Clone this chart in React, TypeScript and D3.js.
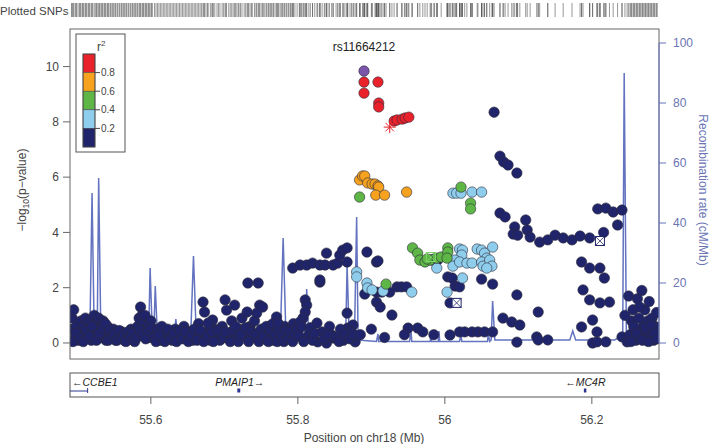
import React from "react";
import * as d3 from "d3";

// ---------- DATA ----------
const xTicks = [55.6, 55.8, 56, 56.2];
const yTicks = [0, 2, 4, 6, 8, 10];
const recTicks = [0, 20, 40, 60, 80, 100];
const legendLabels = ["0.8", "0.6", "0.4", "0.2"];
const legendColors = ["#e8212a", "#f6a21e", "#5db646", "#8fcdec", "#20246a"];
const leadSnp = "rs11664212";

// [position Mb, -log10 p]
const navyPts: [number, number][] = [
  [55.492,0.5],[55.493,0.9],[55.495,1.2],[55.497,0.2],[55.499,0.6],[55.501,0.1],[55.503,0.4],[55.505,0.8],[55.507,0.3],[55.509,0.6],
  [55.511,0.9],[55.513,0.2],[55.515,0.5],[55.517,0.8],[55.519,0.1],[55.521,0.4],[55.523,1.0],[55.525,0.7],[55.527,0.3],[55.529,0.9],
  [55.531,0.5],[55.533,0.2],[55.535,0.8],[55.537,0.4],[55.539,0.1],[55.541,0.6],[55.543,0.3],[55.546,0.2],[55.549,0.5],[55.552,0.1],
  [55.555,0.3],[55.558,0.2],[55.561,0.4],[55.564,0.1],[55.567,0.3],[55.570,0.2],[55.573,0.5],[55.576,0.1],[55.579,0.3],[55.582,0.6],
  [55.584,0.9],[55.586,1.3],[55.588,1.0],[55.590,0.7],[55.592,1.0],[55.594,0.4],[55.596,0.6],[55.598,0.2],[55.600,0.8],[55.602,0.3],
  [55.494,0.05],[55.498,0.35],[55.504,0.15],[55.508,0.05],[55.512,0.45],[55.516,0.25],[55.520,0.6],[55.526,0.1],[55.530,0.35],[55.534,0.55],
  [55.538,0.7],[55.542,0.1],[55.545,0.45],[55.548,0.25],[55.551,0.35],[55.554,0.1],[55.557,0.45],[55.560,0.15],[55.563,0.3],[55.566,0.05],
  [55.569,0.4],[55.572,0.25],[55.575,0.35],[55.578,0.05],[55.581,0.2],[55.585,0.45],[55.589,0.3],[55.593,0.15],[55.597,0.45],[55.601,0.55],
  [55.605,0.2],[55.609,0.5],[55.613,0.1],[55.617,0.4],[55.621,0.2],[55.625,0.3],[55.629,0.1],[55.633,0.5],[55.637,0.2],[55.641,0.3],
  [55.645,0.6],[55.649,0.2],[55.653,0.4],[55.657,0.1],[55.661,0.3],[55.665,0.7],[55.669,0.2],[55.675,0.4],[55.681,0.1],[55.687,0.5],
  [55.690,0.3],[55.694,0.1],[55.697,0.6],[55.706,0.3],[55.710,0.8],[55.717,0.2],[55.720,0.5],[55.724,0.9],[55.727,0.3],[55.735,0.6],
  [55.738,0.2],[55.741,0.8],[55.755,0.4],[55.758,0.1],[55.761,0.6],[55.764,0.3],[55.767,0.1],[55.776,0.4],[55.779,0.1],[55.782,0.6],
  [55.785,0.3],[55.788,0.5],[55.791,0.2],[55.794,0.7],
  [55.607,0.05],[55.611,0.3],[55.615,0.6],[55.619,0.05],[55.623,0.5],[55.627,0.15],[55.631,0.35],[55.635,0.05],[55.639,0.45],[55.643,0.15],
  [55.647,0.4],[55.651,0.05],[55.655,0.25],[55.659,0.5],[55.663,0.1],[55.667,0.45],[55.672,0.05],[55.677,0.25],[55.683,0.4],[55.685,0.05],
  [55.692,0.45],[55.699,0.2],[55.702,0.4],[55.708,0.05],[55.712,0.45],[55.715,0.6],[55.719,0.05],[55.722,0.3],[55.729,0.55],[55.733,0.05],
  [55.737,0.4],[55.743,0.3],[55.747,0.05],[55.750,0.5],[55.753,0.2],[55.757,0.6],[55.760,0.05],[55.763,0.45],[55.766,0.7],[55.769,0.3],
  [55.772,0.05],[55.774,0.5],[55.778,0.25],[55.781,0.05],[55.784,0.45],[55.787,0.15],[55.790,0.4],[55.793,0.05],[55.796,0.3],[55.799,0.5],
  [55.671,1.48],[55.673,1.12],[55.684,0.83],[55.678,0.72],[55.701,1.56],[55.703,1.19],[55.714,1.37],[55.731,1.12],[55.732,2.17],[55.746,2.17],
  [55.748,1.37],[55.752,1.3],[55.744,1.08],[55.771,0.94],[55.773,0.72],
  [55.810,1.56],[55.812,1.37],[55.810,1.12],[55.807,0.9],[55.803,0.76],[55.805,0.58],[55.830,2.2],[55.826,0.72],[55.867,1.08],[55.868,0.54],
  [55.875,0.65],[55.878,0.04],[55.848,0.18],[55.827,0.04],[55.839,0.0],
  [55.793,2.71],[55.803,2.82],[55.812,2.82],[55.820,2.89],[55.830,2.82],[55.837,2.82],[55.848,2.82],[55.854,2.89],[55.867,2.93],[55.839,3.25],
  [55.857,3.18],[55.861,3.36],[55.867,3.44],[55.830,2.28],[55.846,0.29],[55.873,0.4],
  [55.815,0.3],[55.820,0.1],[55.833,0.4],[55.843,0.6],[55.852,0.2],[55.858,0.5],[55.862,0.1],
  [55.802,0.25],[55.808,0.05],[55.817,0.55],[55.823,0.35],[55.836,0.15],[55.841,0.3],[55.856,0.05],[55.864,0.3],[55.871,0.15],[55.876,0.3],
  [55.894,3.29],[55.907,2.93],[55.909,2.97],[55.891,1.77],[55.907,1.84],[55.914,1.84],[55.925,1.84],[55.935,2.03],[55.941,2.03],[55.948,2.03],
  [55.907,1.48],[55.912,1.3],[55.928,1.01],[55.950,0.54],[55.963,0.54],
  [55.885,0.3],[55.900,0.5],[55.918,0.2],[55.945,0.3],[55.970,0.4],[55.985,0.3],
  [55.982,3.0],[55.986,3.04],[55.990,3.0],
  [56.004,2.39],[56.010,2.35],[56.014,2.06],[56.020,2.03],[56.050,2.31],[56.065,2.13],[56.007,1.45],[56.098,1.74],[56.127,1.12],[56.079,0.9],
  [56.091,0.76],[56.102,0.65],[56.020,0.4],[56.027,0.4],[56.037,0.4],[56.045,0.4],[56.054,0.4],[56.065,0.4],[56.007,0.29],[56.125,0.22],
  [56.067,8.35],[56.075,6.76],[56.080,6.55],[56.086,6.44],[56.098,6.15],[56.075,4.7],[56.082,4.56],[56.110,4.45],[56.095,4.2],[56.093,3.94],
  [56.099,3.9],[56.112,4.09],[56.116,3.83],[56.129,3.65],[56.140,3.73],
  [56.150,3.9],[56.161,3.8],[56.173,3.73],[56.184,3.87],[56.197,3.8],[56.208,4.85],[56.219,4.88],[56.229,4.74],[56.241,4.81],[56.235,4.27],
  [56.216,4.0],[56.186,2.93],[56.197,2.71],[56.211,2.71],[56.217,2.35],[56.188,1.92],[56.197,1.56],[56.211,1.45],[56.224,1.48],
  [56.098,0.03],[56.127,0.11],[56.140,0.11],[56.186,0.58],[56.201,0.83],[56.207,0.4],[56.201,0.0],[56.207,0.04],[56.219,0.04],[56.241,0.22],[56.248,0.04],
  [56.252,0.3],[56.254,0.8],[56.256,1.2],[56.258,0.5],[56.260,0.1],[56.262,1.6],[56.264,0.9],[56.266,0.3],[56.268,1.9],[56.270,0.6],
  [56.272,1.2],[56.274,0.2],[56.276,0.8],[56.278,1.5],[56.280,0.4],[56.282,0.9],[56.284,0.1],[56.286,0.6],[56.288,1.1],[56.250,1.7],[56.245,1.0],
  [56.253,0.05],[56.257,0.6],[56.261,0.35],[56.265,1.3],[56.269,0.1],[56.273,0.55],[56.277,0.05],[56.281,0.65],[56.285,0.35],[56.289,0.15]
];
const lightBluePts: [number, number][] = [
  [56.011,5.42],[56.016,5.42],[56.022,5.42],[56.037,5.46],[56.050,5.46],
  [56.020,3.4],[56.024,3.36],[56.023,3.18],[56.014,3.0],[56.011,2.78],[56.020,2.93],[56.030,2.89],[56.037,2.89],[56.044,3.4],[56.050,3.36],
  [56.054,3.25],[56.057,3.07],[56.050,2.93],[56.052,2.78],[56.061,3.0],[56.064,2.78],[56.065,3.47],[56.057,2.71],[55.989,2.71],[56.024,2.35],[56.003,1.84],
  [55.880,2.57],[55.880,2.39],[55.894,2.17],[55.895,1.99],[55.901,1.92],[55.916,1.88],[55.955,1.84]
];
const greenPts: [number, number][] = [
  [55.884,5.28],[56.022,5.64],[56.035,5.06],[56.035,4.85],[55.920,2.13],
  [55.956,3.44],[55.963,3.25],[55.966,3.0],[55.973,2.93],[55.980,3.0],[55.989,3.07],[55.995,3.11],[56.004,3.44],[56.004,3.29],[56.003,3.07],[55.976,3.04]
];
const orangePts: [number, number][] = [
  [55.884,5.9],[55.888,6.04],[55.891,6.04],[55.895,5.79],[55.901,5.75],[55.905,5.75],[55.909,5.68],[55.910,5.64],[55.906,5.35],[55.918,5.35],[55.948,5.46]
];
const redPts: [number, number][] = [
  [55.890,9.44],[55.909,9.44],[55.890,9.04],[55.910,8.68],[55.910,8.54],[55.931,8.03],[55.935,8.07],[55.942,8.10],[55.946,8.14],[55.951,8.17]
];
const leadPt: [number, number] = [55.890, 9.84];
const starPt: [number, number] = [55.925, 7.81];
const squareNavy: [number, number][] = [[56.016, 1.45], [56.211, 3.69]];
const squareGreen: [number, number][] = [[55.981, 3.11]];

// recombination rate [position Mb, cM/Mb]
const recomb: [number, number][] = [
  [55.490,2],[55.515,2],[55.517,2],[55.520,50],[55.523,2],[55.527,2],[55.529,55],[55.532,2],[55.552,1],[55.593,1],[55.597,2],[55.599,25],
  [55.602,3],[55.604,3],[55.606,19],[55.609,2],[55.631,1],[55.634,8],[55.637,1],[55.654,1],[55.658,29],[55.662,1],[55.740,1],[55.746,2],
  [55.752,1],[55.776,1],[55.780,35],[55.784,1],[55.788,1],[55.789,7],[55.791,1],[55.810,1],[55.812,18],[55.815,1],[55.844,1],[55.865,1],
  [55.867,26],[55.870,1],[55.877,1],[55.880,42],[55.882,1],[55.907,0.5],[55.909,3],[55.910,0.5],[55.952,0.5],[55.954,4],[55.955,0.5],
  [55.980,0.5],[55.981,3],[55.982,0.5],[55.991,0.5],[55.992,4],[55.993,0.5],[56.020,0.5],[56.022,3],[56.023,0.5],[56.058,0.5],[56.059,3],
  [56.061,0.5],[56.063,1],[56.065,14],[56.068,1],[56.071,1],[56.170,1],[56.174,4],[56.178,1],[56.231,1],[56.238,2],[56.242,2],[56.244,90],
  [56.247,2],[56.265,2],[56.290,3]
];

// genes
const geneNames = ["CCBE1", "PMAIP1", "MC4R"];
const geneStart = [55.40, 55.719, 56.1905];
const geneEnd = [55.514, 55.723, 56.192];
const geneStrand = [-1, 1, -1];

// ---------- CHART ----------
export default function App() {
  const W = 709, H = 444;
  const L = 70, R = 659, T = 29, B = 359;
  const x = d3.scaleLinear().domain([55.49, 56.29]).range([L, 658]);
  const y = d3.scaleLinear().domain([-0.58, 11.36]).range([B, T]);
  const yr = d3.scaleLinear().domain([0, 100]).range([343, 43]);
  const font = "'Liberation Sans', Arial, Helvetica, sans-serif";
  const recColor = "#6373bf";
  const textCol = "#444";

  const line = d3.line<[number, number]>().x(d => x(d[0])).y(d => yr(d[1]));
  const allSnps = [...navyPts, ...lightBluePts, ...greenPts, ...orangePts, ...redPts, leadPt, starPt, ...squareNavy, ...squareGreen];

  const dots = (pts: [number, number][], fill: string, key: string) =>
    pts.map((d, i) => (
      <circle key={key + i} cx={x(d[0])} cy={y(d[1])} r={5.2} fill={fill} stroke="#2b2b3a" strokeWidth={0.6} />
    ));

  const squares = (pts: [number, number][], col: string, fill: string, key: string) =>
    pts.map((d, i) => {
      const cx = x(d[0]), cy = y(d[1]), s = 4.5;
      return (
        <g key={key + i}>
          <rect x={cx - s} y={cy - s} width={2 * s} height={2 * s} fill={fill} stroke={col} strokeWidth={1} />
          <line x1={cx - s} y1={cy - s} x2={cx + s} y2={cy + s} stroke={col} strokeWidth={0.8} />
          <line x1={cx + s} y1={cy - s} x2={cx - s} y2={cy + s} stroke={col} strokeWidth={0.8} />
        </g>
      );
    });

  const sx = x(starPt[0]), sy = y(starPt[1]);
  const star = d3.range(4).map(i => {
    const a = (i * Math.PI) / 4;
    return (
      <line key={"st" + i} x1={sx - 6 * Math.cos(a)} y1={sy - 6 * Math.sin(a)} x2={sx + 6 * Math.cos(a)} y2={sy + 6 * Math.sin(a)}
        stroke="#e8212a" strokeWidth={1} />
    );
  });

  const legX = 83, legTop = 54, segH = 18.6, legW = 12;

  return (
    <svg width={W} height={H} style={{ position: "absolute", left: 0, top: 0, background: "#fff" }} fontFamily={font}>
      <rect width={W} height={H} fill="#fff" />
      <defs>
        <clipPath id="plotClip"><rect x={L} y={T} width={R - L} height={B - T} /></clipPath>
      </defs>
      {/* Plotted SNPs rug */}
      <text x={0} y={15} fontSize={11.5} fill={textCol}>Plotted SNPs</text>
      {allSnps.map((d, i) => (
        <line key={"rug" + i} x1={x(d[0])} x2={x(d[0])} y1={3} y2={17} stroke="#555" strokeWidth={1} opacity={0.6} />
      ))}

      <g clipPath="url(#plotClip)">
        {/* recombination line */}
        <path d={line(recomb) || ""} fill="none" stroke={recColor} strokeWidth={1.5} />

        {/* points */}
        {dots(navyPts, "#20246a", "n")}
        {squares(squareNavy, "#20246a", "#fff", "sqn")}
        {dots(lightBluePts, "#8fcdec", "lb")}
        {dots(greenPts, "#5db646", "g")}
        {squares(squareGreen, "#7fd86a", "none", "sqg")}
        {dots(orangePts, "#f6a21e", "o")}
        {dots(redPts, "#e8212a", "r")}
        {star}
        <circle cx={x(leadPt[0])} cy={y(leadPt[1])} r={5.2} fill="#7b55aa" stroke="#2b2b3a" strokeWidth={0.6} />
      </g>

      {/* frame */}
      <rect x={L} y={T} width={R - L} height={B - T} fill="none" stroke="#666" strokeWidth={1} />

      {/* title */}
      <text x={364} y={51} fontSize={12} textAnchor="middle" fill="#222">{leadSnp}</text>

      {/* left axis */}
      {yTicks.map(t => (
        <g key={"yt" + t}>
          <line x1={L - 7} x2={L} y1={y(t)} y2={y(t)} stroke="#666" />
          <text x={L - 11} y={y(t)} dy="0.35em" fontSize={12} textAnchor="end" fill={textCol}>{t}</text>
        </g>
      ))}
      <text transform={`translate(26,${190}) rotate(-90)`} fontSize={12} textAnchor="middle" fill={textCol}>
        −log<tspan fontSize={8.5} dy={3}>10</tspan><tspan dy={-3}>(p−value)</tspan>
      </text>

      {/* right axis */}
      <line x1={R} x2={R} y1={yr(0)} y2={yr(100)} stroke={recColor} />
      {recTicks.map(t => (
        <g key={"rt" + t}>
          <line x1={R} x2={R + 7} y1={yr(t)} y2={yr(t)} stroke={recColor} />
          <text x={R + 14} y={yr(t)} dy="0.35em" fontSize={12} fill="#6a74b4">{t}</text>
        </g>
      ))}
      <text transform={`translate(699,${190}) rotate(90)`} fontSize={12} textAnchor="middle" fill="#6a74b4">
        Recombination rate (cM/Mb)
      </text>

      {/* legend */}
      <rect x={76} y={34} width={49} height={118} fill="#fff" stroke="#555" strokeWidth={1} />
      <text x={97} y={51} fontSize={12} fill={textCol}>r<tspan fontSize={8} dy={-5}>2</tspan></text>
      {legendColors.map((c, i) => (
        <rect key={"lc" + i} x={legX} y={legTop + i * segH} width={legW} height={segH} fill={c} stroke="#444" strokeWidth={0.5} />
      ))}
      <rect x={legX} y={legTop} width={legW} height={segH * 5} fill="none" stroke="#444" strokeWidth={0.8} />
      {legendLabels.map((lab, i) => (
        <g key={"ll" + i}>
          <line x1={legX + legW} x2={legX + legW + 5} y1={legTop + (i + 1) * segH} y2={legTop + (i + 1) * segH} stroke="#444" />
          <text x={legX + legW + 6} y={legTop + (i + 1) * segH} dy="0.35em" fontSize={10} fill={textCol}>{lab}</text>
        </g>
      ))}

      {/* gene track */}
      <rect x={L} y={373} width={R - L} height={24} fill="#fff" stroke="#555" strokeWidth={1} />
      {geneNames.map((g, i) => {
        const x0 = Math.max(L, x(geneStart[i]));
        const x1 = x(geneEnd[i]);
        const mid = (x0 + x1) / 2;
        const label = geneStrand[i] < 0 ? "←" + g : g + "→";
        const tx = i === 0 ? L + 2 : mid;
        return (
          <g key={"gene" + i}>
            {x1 - x0 > 6 ? (
              <g>
                <line x1={x0} x2={x1} y1={391} y2={391} stroke="#2c3490" strokeWidth={1} />
                <line x1={x1} x2={x1} y1={388} y2={393} stroke="#2c3490" strokeWidth={1} />
              </g>
            ) : (
              <rect x={x0 - 1} y={388.5} width={Math.max(2.5, x1 - x0)} height={4} fill="#2c3490" />
            )}
            <text x={tx} y={386} fontSize={10.5} fontStyle="italic" textAnchor={i === 0 ? "start" : "middle"} fill="#222">{label}</text>
          </g>
        );
      })}

      {/* x axis */}
      {xTicks.map(t => (
        <g key={"xt" + t}>
          <line x1={x(t)} x2={x(t)} y1={397} y2={404} stroke="#666" />
          <text x={x(t)} y={424} fontSize={12} textAnchor="middle" fill={textCol}>{t}</text>
        </g>
      ))}
      <text x={364} y={442} fontSize={12} textAnchor="middle" fill={textCol}>Position on chr18 (Mb)</text>
    </svg>
  );
}
